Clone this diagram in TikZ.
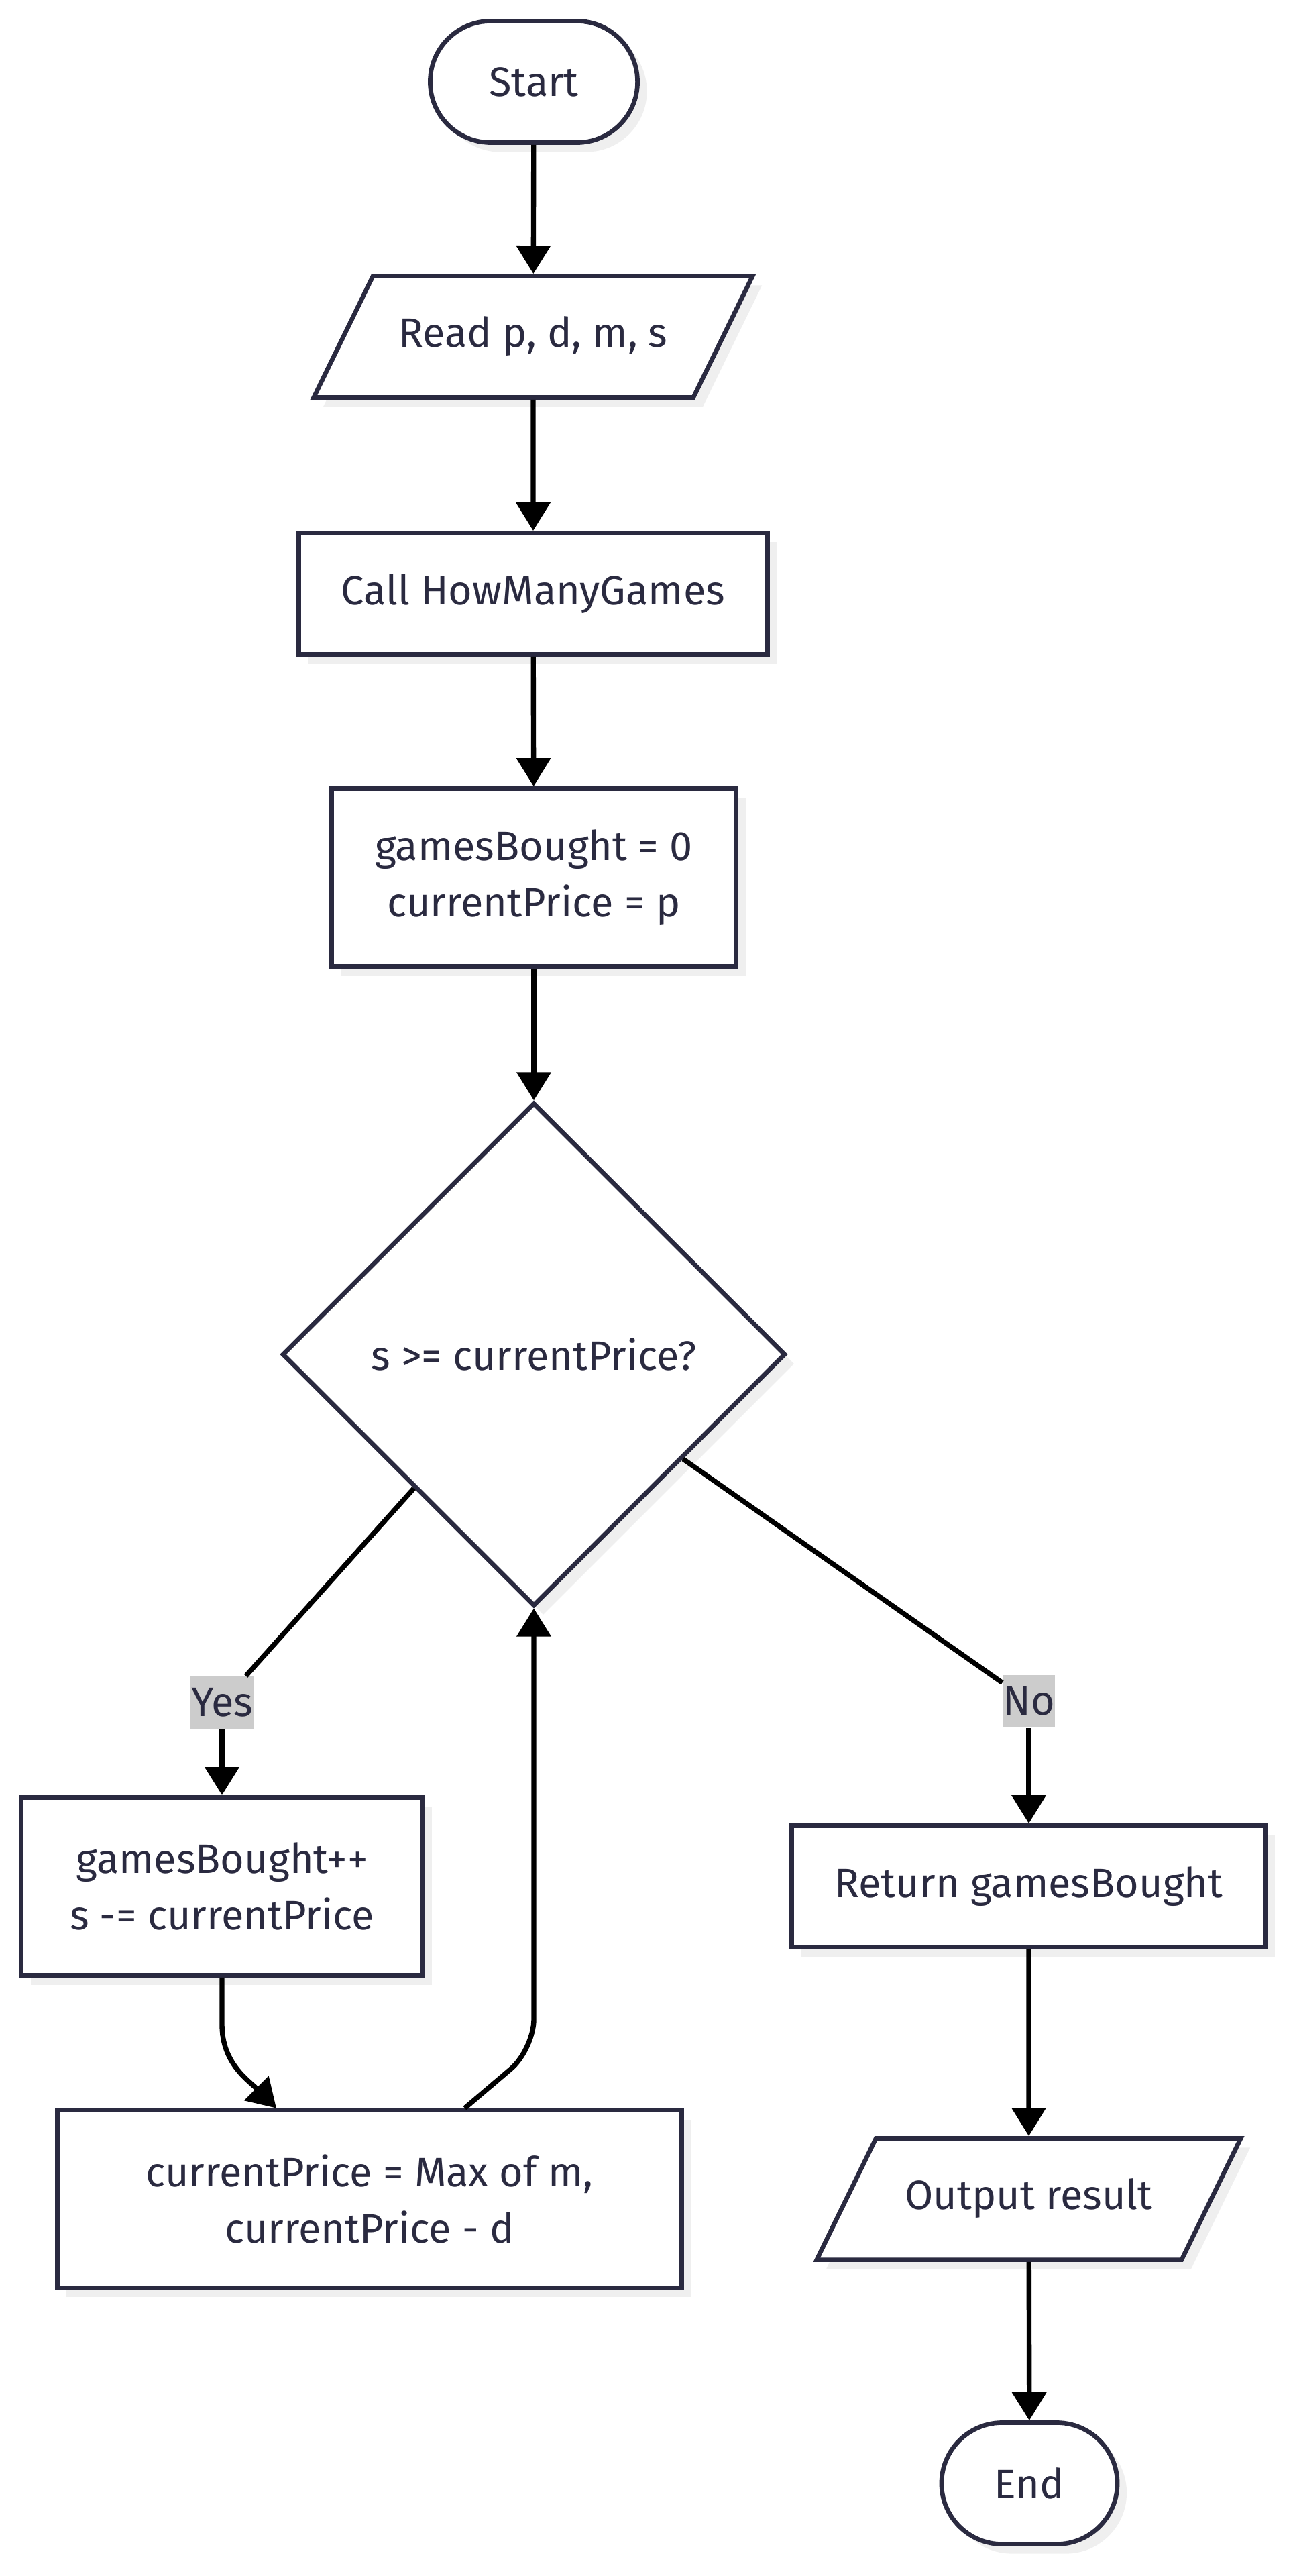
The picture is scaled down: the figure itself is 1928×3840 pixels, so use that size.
\documentclass[tikz,border=0pt]{standalone}
\usepackage{fontspec}
\setmainfont{Fira Sans}
\usetikzlibrary{arrows.meta,calc,positioning,shapes.geometric,shapes.misc,shadows}
\definecolor{flowink}{HTML}{2A2A40}
\definecolor{flowshade}{HTML}{EFEFEF}
\definecolor{flowlabel}{HTML}{CCCCCC}

\begin{document}
\begin{tikzpicture}[x=0.01cm,y=0.01cm,font=\fontsize{17.4}{24}\selectfont,text=flowink,
  basebox/.style={draw=flowink,line width=1.9pt,fill=white,align=center,inner sep=0pt,
    general shadow={shadow xshift=0.14cm,shadow yshift=-0.14cm,fill=flowshade}},
  termbox/.style={basebox,rounded rectangle,minimum height=1.81cm},
  iobox/.style={basebox,trapezium,trapezium left angle=64,trapezium right angle=116,
    trapezium stretches body=true,text height=0.45cm,text depth=0.15cm,inner ysep=0.605cm},
  procbox/.style={basebox,rectangle},
  decbox/.style={basebox,diamond,minimum width=7.5cm,minimum height=7.5cm},
  edgelabel/.style={fill=flowlabel,inner sep=0pt,minimum height=0.78cm},
  flowline/.style={draw=black,line width=2.1pt},
  flowarrow/.style={flowline,-{Triangle[length=0.42cm,width=0.5cm]}}]
\useasboundingbox (0,0) rectangle (1928,-3840);
\node[termbox,minimum width=3.09cm] (start) at (796,-122) {Start};
\node[iobox,minimum width=6.54cm] (read) at (795,-502) {Read p, d, m, s};
\node[procbox,minimum width=6.98cm,minimum height=1.81cm] (call) at (795,-885) {Call HowManyGames};
\node[procbox,minimum width=6.03cm,minimum height=2.65cm] (init) at (796,-1308) {gamesBought = 0\\currentPrice = p};
\node[decbox] (check) at (796,-2019) {s >= currentPrice?};
\node[procbox,minimum width=5.98cm,minimum height=2.65cm] (buy) at (331,-2812) {gamesBought++\\s -= currentPrice};
\node[procbox,minimum width=9.31cm,minimum height=2.64cm] (update) at (551,-3278) {currentPrice = Max of m,\\currentPrice - d};
\node[procbox,minimum width=7.06cm,minimum height=1.81cm] (ret) at (1534,-2812) {Return gamesBought};
\node[iobox,minimum width=6.32cm] (output) at (1534,-3278) {Output result};
\node[termbox,minimum width=2.62cm] (end) at (1535,-3702) {End};
\node[edgelabel,minimum width=0.96cm] (yes) at (331,-2538) {Yes};
\node[edgelabel,minimum width=0.68cm] (no) at (1534,-2536) {No};
\coordinate (back) at (796,-3055);
\draw[flowarrow] (start) -- (read);
\draw[flowarrow] (read) -- (call);
\draw[flowarrow] (call) -- (init);
\draw[flowarrow] (init) -- (check);
\draw[flowline] (check) -- (yes);
\draw[flowarrow] (yes) -- (buy);
\draw[flowline] (check) -- (no);
\draw[flowarrow] (no) -- (ret);
\draw[flowarrow] (buy.south) -- ++(0,-70) to[out=-90,in=135] ($(update.north)+(-139,0)$);
\draw[flowarrow,rounded corners=0.45cm] ($(update.north)+(142,0)$) -- (back) -- (check.south);
\draw[flowarrow] (ret) -- (output);
\draw[flowarrow] (output) -- (end);
\end{tikzpicture}
\end{document}
